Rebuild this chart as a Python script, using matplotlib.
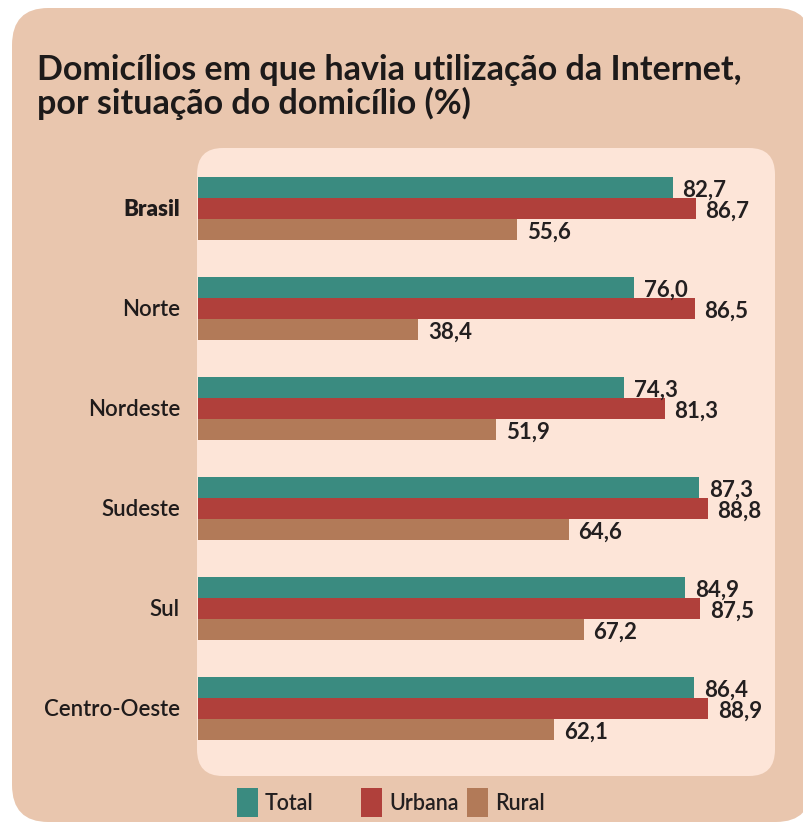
import matplotlib.pyplot as plt
from matplotlib.patches import FancyBboxPatch, Rectangle
import numpy as np

regioes = ["Brasil", "Norte", "Nordeste", "Sudeste", "Sul", "Centro-Oeste"]
total = [82.7, 76.0, 74.3, 87.3, 84.9, 86.4]
urbana = [86.7, 86.5, 81.3, 88.8, 87.5, 88.9]
rural = [55.6, 38.4, 51.9, 64.6, 67.2, 62.1]
series = ["Total", "Urbana", "Rural"]
cores = ["#3a8b80", "#b0403b", "#b27a58"]

W, H = 804, 827
plt.rcParams['font.family'] = ['Lato', 'DejaVu Sans']
fig = plt.figure(figsize=(W / 100, H / 100), dpi=100)
fig.patch.set_facecolor("white")

def fx(px):
    return px / W

def fy(py):
    return 1 - py / H

# fundo externo e painel interno
fig.patches.append(FancyBboxPatch((fx(12), fy(822)), fx(792 - 12 + 20), fy(8) - fy(822),
                                  boxstyle="round,pad=0,rounding_size=0.045",
                                  transform=fig.transFigure, facecolor="#e9c6ae",
                                  edgecolor="none", zorder=0))
fig.patches.append(FancyBboxPatch((fx(197), fy(776)), fx(775 - 197), fy(148) - fy(776),
                                  boxstyle="round,pad=0,rounding_size=0.032",
                                  transform=fig.transFigure, facecolor="#fde5d8",
                                  edgecolor="none", zorder=0))

fig.text(fx(37), fy(87), "Domicílios em que havia utilização da Internet,\npor situação do domicílio (%)",
         fontsize=24.5, fontweight="bold", color="#1d1a1a", va="center", ha="left",
         linespacing=1.0)

ax = fig.add_axes([fx(198), fy(776), fx(775 - 198), fy(148) - fy(776)])
ax.set_zorder(3)
ax.set_facecolor("none")
ax.set_xlim(0, (775 - 198) / 5.74)
ax.set_ylim(5.68, -0.6)

y = np.arange(len(regioes))
h = 0.21
for k, (vals, cor) in enumerate(zip([total, urbana, rural], cores)):
    pos = y + (k - 1) * h
    ax.barh(pos, vals, height=h, color=cor, edgecolor="none")
    for p, v in zip(pos, vals):
        ax.text(v + 1.7, p + 0.03, f"{v:.1f}".replace(".", ","), va="center", ha="left",
                fontsize=16, fontweight="bold", color="#231f20")

ax.set_yticks(y)
ax.set_yticklabels(regioes)
for i, t in enumerate(ax.get_yticklabels()):
    t.set_fontsize(16)
    t.set_color("#1f1b1b")
    t.set_fontweight("heavy" if i == 0 else "semibold")
ax.tick_params(axis="y", length=0, pad=13)
ax.set_xticks([])
for s in ax.spines.values():
    s.set_visible(False)

# legenda
leg_x = [237, 361, 467]
for lx, nome, cor in zip(leg_x, series, cores):
    fig.patches.append(Rectangle((fx(lx), fy(817)), fx(21), fy(788) - fy(817),
                                 transform=fig.transFigure, facecolor=cor, edgecolor="none",
                                 zorder=1))
    fig.text(fx(lx + 28), fy(803), nome, fontsize=15.5, fontweight="semibold",
             color="#231f20", va="center", ha="left")

fig.savefig("out.png", dpi=100, facecolor="white")
